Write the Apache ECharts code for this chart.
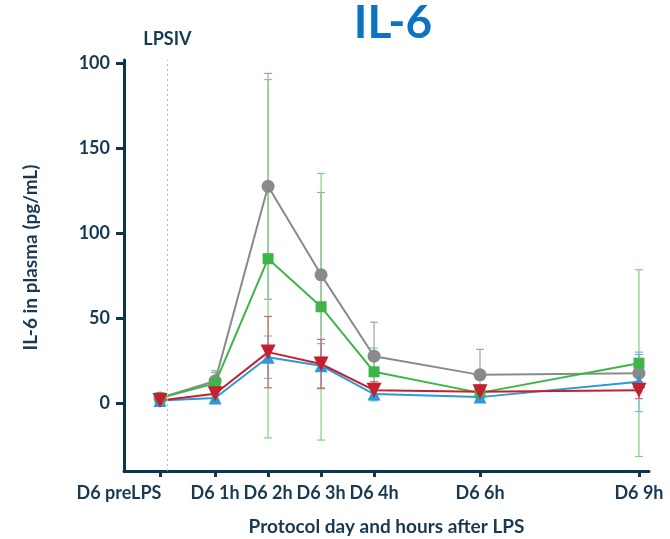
<!DOCTYPE html>
<html><head><meta charset="utf-8">
<script src="https://cdn.jsdelivr.net/npm/echarts@6/dist/echarts.min.js"></script>
<style>html,body{margin:0;padding:0;background:#fff}#c{width:670px;height:539px}</style>
</head><body><div id="c"></div>
<script>
const hours = [-0.04, 1, 2, 3, 4, 6, 9];
const xTickLabels = ['D6 preLPS', 'D6 1h', 'D6 2h', 'D6 3h', 'D6 4h', 'D6 6h', 'D6 9h'];
const yTickValues = [0, 50, 100, 150, 200];
const yTickLabels = ['0', '50', '100', '150', '100'];
const lpsTime = 0.1;
const grayVals = [3, 13, 127.6, 75.5, 27.6, 16.6, 17.6];
const grayErr = [1, 5, 66.5, 48.5, 20, 15, 11];
const greenVals = [3, 11.6, 85, 56.7, 18.4, 6, 23.5];
const greenErr = [1.5, 7.5, 105.5, 78.5, 14, 3, 55];
const blueVals = [1.5, 3, 27, 22, 5.3, 3.5, 12.5];
const blueErr = [1, 2, 12.5, 13, 4, 3, 17.5];
const redVals = [1.5, 5.5, 30, 23, 7.6, 6.6, 7.6];
const redErr = [1, 3, 21, 14.5, 5, 4, 5];

const FONT = 'Lato';
const TXT = '#173a52';
const AX = '#0d3550';
const FS = 18;

function errSeries(vals, errs, color) {
  return {
    type: 'custom', silent: true, z: 1,
    data: hours.map((h, i) => [h, vals[i], errs[i]]),
    encode: { x: 0, y: 1 },
    renderItem: function (params, api) {
      const x = api.value(0), y = api.value(1), e = api.value(2);
      const t = api.coord([x, y + e]), b = api.coord([x, y - e]);
      const w = 4;
      const st = { stroke: color, lineWidth: 1.2 };
      return { type: 'group', children: [
        { type: 'line', shape: { x1: t[0], y1: t[1], x2: b[0], y2: b[1] }, style: st },
        { type: 'line', shape: { x1: t[0] - w, y1: t[1], x2: t[0] + w, y2: t[1] }, style: st },
        { type: 'line', shape: { x1: b[0] - w, y1: b[1], x2: b[0] + w, y2: b[1] }, style: st }
      ]};
    }
  };
}
function lineSeries(vals, color, symbol, size, rot) {
  return {
    type: 'line', z: 3,
    data: hours.map((h, i) => [h, vals[i]]),
    lineStyle: { color: color, width: 2 },
    itemStyle: { color: color, opacity: 1 },
    symbol: symbol, symbolSize: size, symbolRotate: rot || 0,
    showAllSymbol: true
  };
}

const chart = echarts.init(document.getElementById('c'));
chart.setOption({
  animation: false,
  title: {
    text: 'IL-6', left: 388, top: -5, textAlign: 'center',
    textStyle: { fontFamily: FONT, fontWeight: 'bold', fontSize: 46, color: '#0b73c2' }
  },
  grid: { left: 124, right: 21, top: 60, bottom: 68, outerBoundsMode: 'none', containLabel: false },
  xAxis: {
    type: 'value', min: -0.72, max: 9.19,
    splitLine: { show: false },
    axisLine: { show: true, onZero: false, lineStyle: { color: AX, width: 3 } },
    axisTick: { show: true, customValues: hours, length: 6, lineStyle: { color: AX, width: 3 } },
    axisLabel: {
      customValues: hours, margin: 13,
      formatter: function (v) {
        const i = hours.indexOf(v);
        if (i === 0) return '{p|' + xTickLabels[i] + '}';
        return i >= 0 ? xTickLabels[i] : '';
      },
      rich: { p: { fontFamily: FONT, fontWeight: 'bold', fontSize: FS, color: TXT, padding: [0, 82, 0, 0] } },
      fontFamily: FONT, fontWeight: 'bold', fontSize: FS, color: TXT
    },
    name: 'Protocol day and hours after LPS', nameLocation: 'middle', nameGap: 46,
    nameTextStyle: { fontFamily: FONT, fontWeight: 'bold', fontSize: 19, color: TXT }
  },
  yAxis: {
    type: 'value', min: -40, max: 202,
    splitLine: { show: false },
    axisLine: { show: true, onZero: false, lineStyle: { color: AX, width: 3 } },
    axisTick: { show: true, customValues: yTickValues, length: 8, lineStyle: { color: AX, width: 3 } },
    axisLabel: {
      customValues: yTickValues, margin: 14,
      formatter: function (v) { const i = yTickValues.indexOf(v); return i >= 0 ? yTickLabels[i] : ''; },
      fontFamily: FONT, fontWeight: 'bold', fontSize: FS, color: TXT
    },
    name: 'IL-6 in plasma (pg/mL)', nameLocation: 'middle', nameGap: 84,
    nameTextStyle: { fontFamily: FONT, fontWeight: 'bold', fontSize: 19, color: TXT, padding: [0, 0, 0, 16] }
  },
  series: [
    errSeries(grayVals, grayErr, '#a3a3a3'),
    errSeries(greenVals, greenErr, '#7fcf85'),
    errSeries(blueVals, blueErr, '#6cbde6'),
    errSeries(redVals, redErr, '#d9646d'),
    Object.assign(lineSeries(grayVals, '#8a8a8c', 'circle', 13), {
      markLine: {
        silent: true, symbol: ['none', 'none'],
        lineStyle: { color: '#b5b5b5', type: [2, 3], width: 1 },
        label: { show: true, position: 'end', formatter: 'LPSIV', distance: 12,
          fontFamily: FONT, fontWeight: 'bold', fontSize: 18, color: TXT },
        data: [{ xAxis: lpsTime }]
      }
    }),
    lineSeries(greenVals, '#3db54a', 'rect', 11),
    lineSeries(blueVals, '#2b9ad6', 'triangle', 13),
    lineSeries(redVals, '#c4202f', 'triangle', 15, 180)
  ]
});
</script></body></html>
